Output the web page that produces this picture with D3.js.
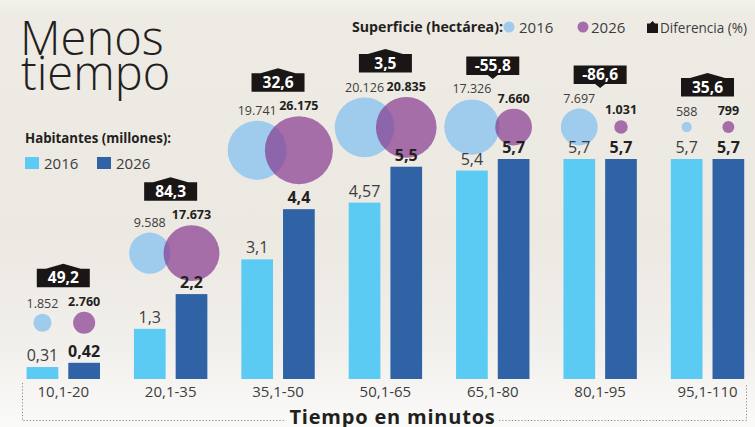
<!DOCTYPE html>
<html><head><meta charset="utf-8">
<script src="https://cdn.jsdelivr.net/npm/d3@7"></script>
<style>
html,body{margin:0;padding:0;background:#fff;}
svg{display:block;font-family:"Open Sans",sans-serif;}
</style></head>
<body>
<svg id="chart" width="755" height="427"></svg>
<script>
// ---------- data ----------
const categories = ["10,1-20","20,1-35","35,1-50","50,1-65","65,1-80","80,1-95","95,1-110"];
const years = ["2016","2026"];
const pop2016 = [0.31, 1.3, 3.1, 4.57, 5.4, 5.7, 5.7];
const pop2026 = [0.42, 2.2, 4.4, 5.5, 5.7, 5.7, 5.7];
const area2016 = [1852, 9588, 19741, 20126, 17326, 7697, 588];
const area2026 = [2760, 17673, 26175, 20835, 7660, 1031, 799];
const diffPct = [49.2, 84.3, 32.6, 3.5, -55.8, -86.6, 35.6];

// ---------- layout (not data) ----------
const bubbleGap = [29, 13, 25, 9, 4.3, 13.6, 26]; // px between taller bar top and bottom of largest bubble

const W = 755, H = 427;
const C = {c16:"#5ccbf3", c26:"#2f63a6", b16:"#9fcbed", p26:"#86398f", ink:"#231f20", grey:"#3d3d3d"};

const loc = d3.formatLocale({decimal:",", thousands:".", grouping:[3], currency:["",""], minus:"-"});
const fPop = loc.format(".2~f");
const fArea = loc.format(",d");
const fDiff = loc.format(".1f");

const svg = d3.select("#chart");
const defs = svg.append("defs");
const grad = defs.append("linearGradient").attr("id","bg").attr("x1",0).attr("y1",0).attr("x2",0).attr("y2",1);
[[0,"#f3f1ed"],[0.03,"#eeebe5"],[0.55,"#ece8e2"],[0.82,"#f2f0ec"],[1,"#fafaf9"]].forEach(s=>
  grad.append("stop").attr("offset",s[0]).attr("stop-color",s[1]));
svg.append("rect").attr("width",W).attr("height",H).attr("fill","url(#bg)");

// scales
const x0 = d3.scaleBand().domain(categories).range([9.6, 761.2]).padding(0);
const bw = x0.bandwidth();
const x1 = d3.scaleBand().domain(years).range([bw/2 - 36.7, bw/2 + 36.7]).paddingInner(0.24).paddingOuter(0);
const y = d3.scaleLinear().domain([0, 5.7]).range([379, 159]);
const r = d3.scaleSqrt().domain([0, d3.max(area2026.concat(area2016))]).range([0, 34]);

const groups = categories.map((c,i)=>({
  cat:c, i,
  pop:[pop2016[i], pop2026[i]],
  area:[area2016[i], area2026[i]],
  diff:diffPct[i]
}));

// title
const title = svg.append("g").attr("fill",C.ink).style("font-weight",300).style("font-size","47px");
title.append("text").attr("x",20).attr("y",55).text("Menos");
title.append("text").attr("x",21).attr("y",90).text("tiempo");

// Habitantes legend
svg.append("text").attr("x",25).attr("y",143).attr("fill",C.ink)
  .style("font-weight",700).style("font-size","14px")
  .attr("textLength",146).attr("lengthAdjust","spacingAndGlyphs").text("Habitantes (millones):");
const hl = svg.append("g");
years.forEach((yr,k)=>{
  const gx = 25 + k*72;
  hl.append("rect").attr("x",gx).attr("y",157).attr("width",14).attr("height",12).attr("fill",k? C.c26:C.c16);
  hl.append("text").attr("x",gx+19).attr("y",168.5).attr("fill",C.grey).style("font-size","15px").text(yr);
});

// Superficie legend
svg.append("text").attr("x",352).attr("y",32).attr("fill",C.ink)
  .style("font-weight",700).style("font-size","14px")
  .attr("textLength",151).attr("lengthAdjust","spacingAndGlyphs").text("Superficie (hectárea):");
svg.append("circle").attr("cx",509).attr("cy",27).attr("r",5.5).attr("fill",C.b16);
svg.append("text").attr("x",519).attr("y",32.5).attr("fill",C.grey).style("font-size","15px").text("2016");
svg.append("circle").attr("cx",583).attr("cy",27).attr("r",5.5).attr("fill",C.p26).attr("fill-opacity",0.7);
svg.append("text").attr("x",591).attr("y",32.5).attr("fill",C.grey).style("font-size","15px").text("2026");
svg.append("path").attr("d","M647,23.5 L650,23.5 L652.5,21 L655,23.5 L658,23.5 L658,33 L647,33 Z").attr("fill","#1a1616");
svg.append("text").attr("x",660).attr("y",32.5).attr("fill",C.grey).style("font-size","15px")
  .attr("textLength",87).attr("lengthAdjust","spacingAndGlyphs").text("Diferencia (%)");

// groups
const g = svg.append("g").selectAll("g.grp").data(groups).join("g").attr("class","grp")
  .attr("transform",d=>`translate(${x0(d.cat)},0)`);

// bars
g.selectAll("rect.bar").data(d=>d.pop.map((v,k)=>({v,k}))).join("rect").attr("class","bar")
  .attr("x",d=>x1(years[d.k])).attr("width",x1.bandwidth())
  .attr("y",d=>y(d.v)).attr("height",d=>y(0)-y(d.v))
  .attr("fill",d=>d.k? C.c26:C.c16);

// bubbles
groups.forEach(d=>{
  const maxR = r(d3.max(d.area));
  d.cy = y(d3.max(d.pop)) - bubbleGap[d.i] - maxR;
  d.labY = d.area.map(a=>d.cy - r(a) - 6);
  d.badgeBottom = d3.min(d.labY) - 18.5;
});
g.selectAll("circle.bub").data(d=>d.area.map((a,k)=>({a,k,cy:d.cy}))).join("circle").attr("class","bub")
  .attr("cx",d=>x1(years[d.k])+x1.bandwidth()/2).attr("cy",d=>d.cy).attr("r",d=>r(d.a))
  .attr("fill",d=>d.k? C.p26:C.b16).attr("fill-opacity",d=>d.k?0.7:1);

// bar labels (drawn above bubbles, as in the reference)
g.selectAll("text.bl").data(d=>d.pop.map((v,k)=>({v,k}))).join("text").attr("class","bl")
  .attr("x",d=>x1(years[d.k])+x1.bandwidth()/2).attr("y",d=>y(d.v)-6)
  .attr("text-anchor","middle").style("font-size","16px")
  .style("font-weight",d=>d.k?700:400).attr("fill",d=>d.k?C.ink:C.grey)
  .text(d=>fPop(d.v));

g.selectAll("text.al").data(d=>d.area.map((a,k)=>({a,k,ly:d.labY[k]}))).join("text").attr("class","al")
  .attr("x",d=>x1(years[d.k])+x1.bandwidth()/2).attr("y",d=>d.ly)
  .attr("text-anchor","middle").style("font-size","12.5px")
  .style("font-weight",d=>d.k?700:400).attr("fill",d=>d.k?C.ink:C.grey)
  .text(d=>fArea(d.a));

// badges
const bwid = 53, bh = 18.5;
g.append("path").attr("fill","#1a1616").attr("d",d=>{
  const cx = bw/2, b = d.badgeBottom, t = b - bh, l = cx - bwid/2, rr = cx + bwid/2;
  if (d.diff >= 0) return `M${l},${t} L${l+9},${t} L${cx},${t-5} L${rr-9},${t} L${rr},${t} L${rr},${b} L${l},${b} Z`;
  return `M${l},${t} L${rr},${t} L${rr},${b} L${cx+5},${b} L${cx},${b+4} L${cx-5},${b} L${l},${b} Z`;
});
g.append("text").attr("x",bw/2).attr("y",d=>d.badgeBottom-4).attr("text-anchor","middle")
  .attr("fill","#fff").style("font-weight",700).style("font-size","15.5px").text(d=>fDiff(d.diff));

// x axis
const ax = svg.append("g").attr("transform",`translate(0,${y(0)})`)
  .call(d3.axisBottom(x0).tickSize(0).tickPadding(7));
ax.select(".domain").remove();
ax.selectAll("text").style("font-size","15px").style("font-family","'Open Sans',sans-serif").attr("fill",C.grey);

// dotted frame and axis title
const dot = {stroke:"#8a8a8a","stroke-width":1,"stroke-dasharray":"1.2,2"};
const fr = svg.append("g");
[["M22.5,383 V420.5 H286"],["M499,420.5 H746.5 V384"]].forEach(p=>{
  const pth = fr.append("path").attr("d",p[0]).attr("fill","none");
  Object.entries(dot).forEach(([k,v])=>pth.attr(k,v));
});
svg.append("text").attr("x",392.5).attr("y",423.5).attr("text-anchor","middle").attr("fill",C.ink)
  .style("font-weight",700).style("font-size","20px").style("letter-spacing","0.8px").text("Tiempo en minutos");
</script>
</body></html>
